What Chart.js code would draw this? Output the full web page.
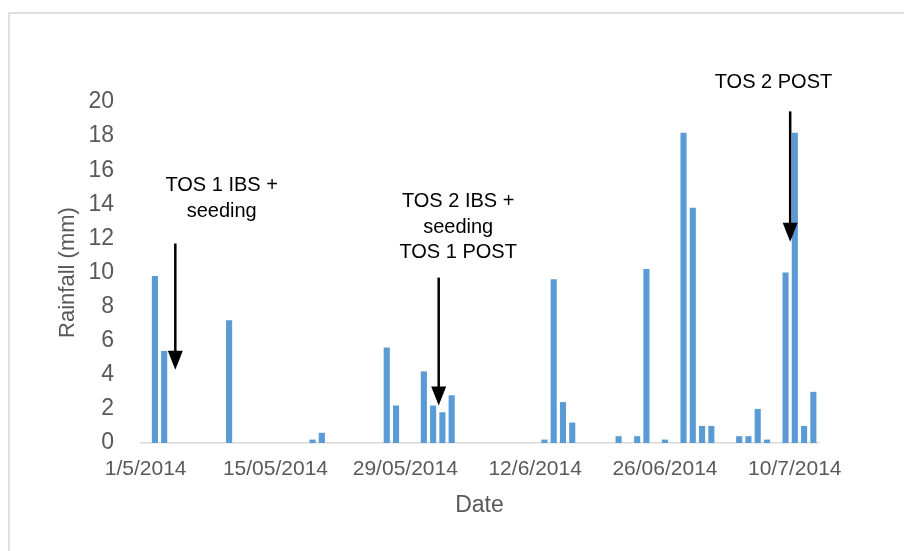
<!DOCTYPE html>
<html lang="en">
<head>
    <meta charset="UTF-8">
    <title>Rainfall</title>
    <script src="https://cdn.jsdelivr.net/npm/chart.js"></script>
    <style>
        html, body {
            margin: 0;
            padding: 0;
            background: #fff;
            overflow: hidden;
        }
        #wrap {
            position: relative;
            width: 904px;
            height: 551px;
        }
        #frame {
            position: absolute;
            left: 8px;
            top: 12px;
            width: 920px;
            height: 560px;
            border-left: 2px solid #dedede;
            border-top: 2px solid #dedede;
        }
        canvas {
            position: absolute;
            left: 0;
            top: 0;
        }
    </style>
</head>
<body>
    <div id="wrap">
        <div id="frame"></div>
        <canvas id="rainChart" width="904" height="551"></canvas>
    </div>
    <script>
        // daily rainfall, only the days with rain
        const rainDates = ['2/5', '3/5', '10/5', '19/5', '20/5', '27/5', '28/5', '31/5', '1/6', '2/6', '3/6',
            '13/6', '14/6', '15/6', '16/6', '21/6', '23/6', '24/6', '26/6', '28/6', '29/6', '30/6', '1/7',
            '4/7', '5/7', '6/7', '7/7', '9/7', '10/7', '11/7', '12/7'];
        const rainMm = [9.8, 5.4, 7.2, 0.2, 0.6, 5.6, 2.2, 4.2, 2.2, 1.8, 2.8,
            0.2, 9.6, 2.4, 1.2, 0.4, 0.4, 10.2, 0.2, 18.2, 13.8, 1.0, 1.0,
            0.4, 0.4, 2.0, 0.2, 10.0, 18.2, 1.0, 3.0];

        // date axis: every day from 1 May to 12 July 2014
        const months = [[5, 31], [6, 30], [7, 12]];
        const tickDays = ['1/5', '15/5', '29/5', '12/6', '26/6', '10/7'];
        const tickTexts = ['1/5/2014', '15/05/2014', '29/05/2014', '12/6/2014', '26/06/2014', '10/7/2014'];

        // arrows and notes, placed in axis units (day index, mm)
        const notes = [
            { lines: ['TOS 1 IBS +', 'seeding'], x: 8.2, y: 15.1, arrowX: 3.2, from: 11.7, to: 4.3 },
            { lines: ['TOS 2 IBS +', 'seeding', 'TOS 1 POST'], x: 33.7, y: 14.15, arrowX: 31.6, from: 9.7, to: 2.2 },
            { lines: ['TOS 2 POST'], x: 67.7, y: 21.15, arrowX: 69.5, from: 19.45, to: 11.8 }
        ];

        const days = [];
        months.forEach(function (m) {
            for (let d = 1; d <= m[1]; d++) days.push(d + '/' + m[0]);
        });
        const series = days.map(function (day) {
            const i = rainDates.indexOf(day);
            return i === -1 ? null : rainMm[i];
        });

        const font = "'Liberation Sans', Arial, sans-serif";

        const notePlugin = {
            id: 'notes',
            afterDatasetsDraw(chart) {
                const ctx = chart.ctx;
                const xs = chart.scales.x;
                const ys = chart.scales.y;
                ctx.save();
                ctx.fillStyle = '#000';
                ctx.strokeStyle = '#000';
                ctx.font = '20px ' + font;
                ctx.textAlign = 'center';
                ctx.textBaseline = 'middle';
                notes.forEach(function (n) {
                    const tx = xs.getPixelForValue(n.x);
                    const ty = ys.getPixelForValue(n.y);
                    n.lines.forEach(function (line, i) {
                        ctx.fillText(line, tx, ty + i * 25.5);
                    });
                    const ax = xs.getPixelForValue(n.arrowX);
                    const y1 = ys.getPixelForValue(n.from);
                    const y2 = ys.getPixelForValue(n.to);
                    ctx.lineWidth = 2.5;
                    ctx.beginPath();
                    ctx.moveTo(ax, y1);
                    ctx.lineTo(ax, y2 - 16);
                    ctx.stroke();
                    ctx.beginPath();
                    ctx.moveTo(ax - 7.5, y2 - 19);
                    ctx.lineTo(ax + 7.5, y2 - 19);
                    ctx.lineTo(ax, y2);
                    ctx.closePath();
                    ctx.fill();
                });
                ctx.restore();
            }
        };

        new Chart(document.getElementById('rainChart'), {
            type: 'bar',
            data: {
                labels: days,
                datasets: [{
                    label: 'Rainfall (mm)',
                    data: series,
                    backgroundColor: '#5b9bd5',
                    barPercentage: 0.66,
                    categoryPercentage: 1
                }]
            },
            options: {
                responsive: false,
                animation: false,
                layout: {
                    padding: { left: 0, right: 86, top: 102, bottom: 0 }
                },
                plugins: {
                    legend: { display: false },
                    tooltip: { enabled: false }
                },
                scales: {
                    x: {
                        grid: { display: false },
                        border: { display: true, color: '#d9d9d9', width: 1.5 },
                        ticks: {
                            autoSkip: false,
                            maxRotation: 0,
                            minRotation: 0,
                            padding: 6,
                            color: '#595959',
                            font: { family: font, size: 21 },
                            callback: function (value) {
                                const i = tickDays.indexOf(days[value]);
                                return i === -1 ? '' : tickTexts[i];
                            }
                        },
                        title: {
                            display: true,
                            text: 'Date',
                            color: '#595959',
                            font: { family: font, size: 23 },
                            padding: { top: 0, bottom: 32 }
                        },
                        afterFit: function (scale) { scale.height = 108; }
                    },
                    y: {
                        min: 0,
                        max: 20,
                        grid: { display: false },
                        border: { display: false },
                        ticks: {
                            stepSize: 2,
                            padding: 19,
                            color: '#595959',
                            font: { family: font, size: 23 }
                        },
                        title: {
                            display: true,
                            text: 'Rainfall (mm)',
                            color: '#595959',
                            font: { family: font, size: 22 },
                            padding: { top: 55, bottom: 0 }
                        },
                        afterFit: function (scale) { scale.width = 141; }
                    }
                }
            },
            plugins: [notePlugin]
        });
    </script>
</body>
</html>
